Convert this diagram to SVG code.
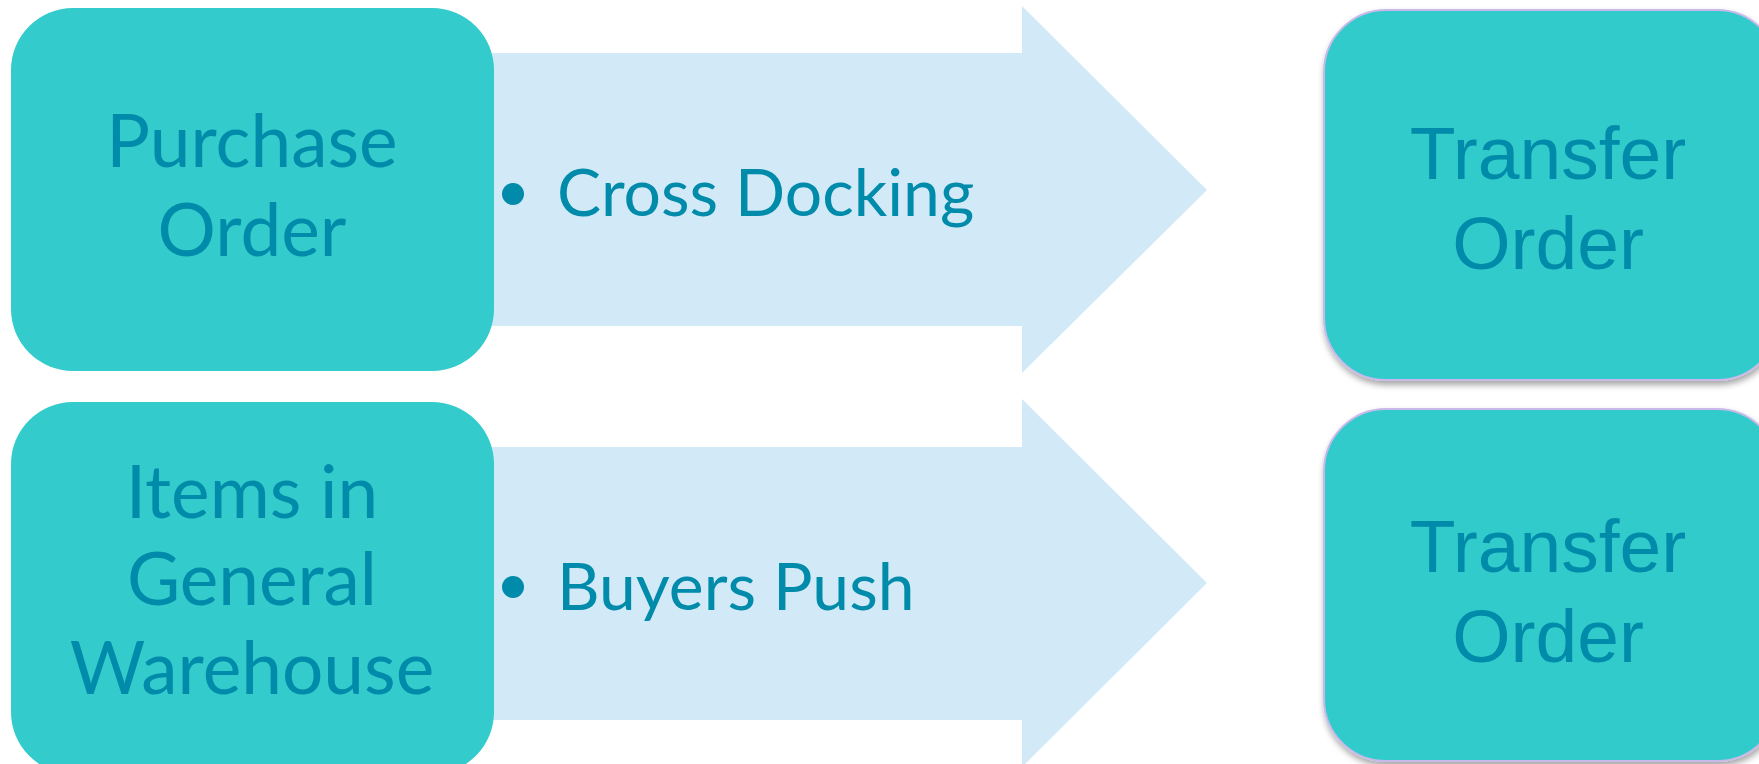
<svg xmlns="http://www.w3.org/2000/svg" width="1759" height="764" viewBox="0 0 1759 764">
<style>
.box{fill:#33CBCB}
.tbox{fill:#33CBCB;stroke:#C9B9EA;stroke-width:2;filter:url(#sh)}
.arrow{fill:#D2E9F8}
.lbl{font-family:Lato,"Open Sans",sans-serif;font-size:73px;fill:#008BAA;text-anchor:middle}
.tlbl{font-family:"Liberation Sans",Arial,sans-serif;font-size:75px;fill:#008BAA;text-anchor:middle}
.blt{font-family:Lato,"Open Sans",sans-serif;font-size:66px;fill:#008BAA}
.dot{fill:#008BAA}
</style>
<defs>
<filter id="sh" x="-10%" y="-10%" width="120%" height="120%">
<feDropShadow dx="1" dy="4" stdDeviation="3" flood-color="#000" flood-opacity="0.35"/>
</filter>
</defs>
<rect width="1759" height="764" fill="#fff"/>
<g id="connectors">
<g id="arrow1">
<polygon class="arrow" points="480,53 1022,53 1022,6 1207,190 1022,373 1022,326 480,326"/>
<circle class="dot" cx="513" cy="194" r="11"/>
<text class="blt" x="557" y="216">Cross Docking</text>
</g>
<g id="arrow2">
<polygon class="arrow" points="480,447 1022,447 1022,399 1207,583 1022,767 1022,720 480,720"/>
<circle class="dot" cx="513" cy="587" r="11"/>
<text class="blt" x="557" y="610">Buyers Push</text>
</g>
</g>
<g id="node-purchase-order">
<rect class="box" x="11" y="8" width="483" height="363" rx="62" ry="62"/>
<text class="lbl" x="252" y="167">Purchase</text>
<text class="lbl" x="252" y="256">Order</text>
</g>
<g id="node-items">
<rect class="box" x="11" y="402" width="483" height="372" rx="62" ry="62"/>
<text class="lbl" x="252" y="518">Items in</text>
<text class="lbl" x="252" y="605">General</text>
<text class="lbl" x="252" y="694">Warehouse</text>
</g>
<g id="node-transfer-1">
<rect class="tbox" x="1324" y="10" width="455" height="370" rx="62" ry="62"/>
<text class="tlbl" x="1548" y="179">Transfer</text>
<text class="tlbl" x="1548" y="269">Order</text>
</g>
<g id="node-transfer-2">
<rect class="tbox" x="1324" y="409" width="455" height="352" rx="62" ry="62"/>
<text class="tlbl" x="1548" y="572">Transfer</text>
<text class="tlbl" x="1548" y="662">Order</text>
</g>
</svg>
